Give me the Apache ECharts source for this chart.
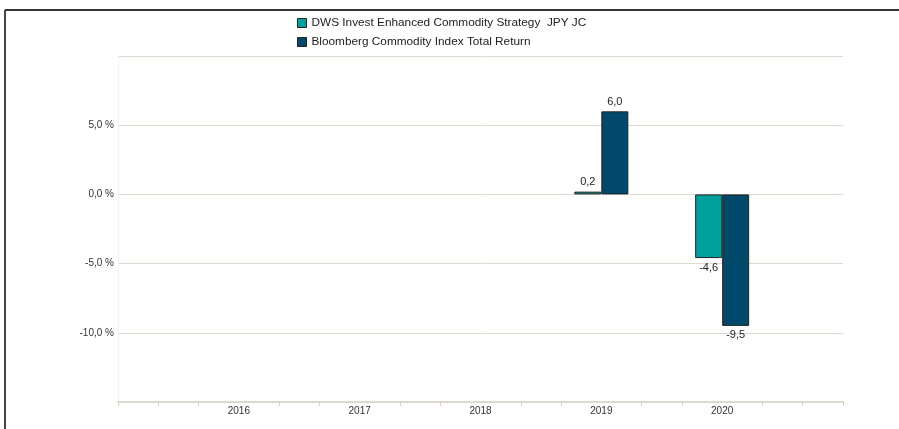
<!DOCTYPE html>
<html>
<head>
<meta charset="utf-8">
<script src="https://cdn.jsdelivr.net/npm/echarts@6/dist/echarts.min.js"></script>
<style>
html,body{margin:0;padding:0;background:#fff;}
#chart{width:899px;height:429px;}
</style>
</head>
<body>
<div id="chart"></div>
<script>
var categories = ['', '2016', '2017', '2018', '2019', '2020', ''];
var seriesNames = ['DWS Invest Enhanced Commodity Strategy  JPY JC', 'Bloomberg Commodity Index Total Return'];
var fundValues = [null, null, null, null, 0.2, -4.6, null];
var indexValues = [null, null, null, null, 6.0, -9.5, null];
var yTicks = [-15, -10, -5, 0, 5, 10];
var minorTickSlots = 19;

var colors = ['#00a09d', '#00496b'];
var font = '"Liberation Sans", Arial, sans-serif';

function fmt(v) { return v.toFixed(1).replace('.', ','); }

function buildData(vals) {
  return vals.map(function (v) {
    if (v === null) return null;
    return { value: v, label: { position: v < 0 ? 'bottom' : 'top' } };
  });
}

var tickCats = [];
for (var i = 0; i < minorTickSlots; i++) tickCats.push('t' + i);

var chart = echarts.init(document.getElementById('chart'), null, { renderer: 'canvas' });
chart.setOption({
  animation: false,
  backgroundColor: '#ffffff',
  textStyle: { fontFamily: font },
  legend: {
    orient: 'vertical',
    left: 297,
    top: 17,
    padding: 0,
    itemWidth: 9,
    itemHeight: 9,
    itemGap: 7,
    icon: 'rect',
    textStyle: { fontSize: 11.8, color: '#222', fontFamily: font },
    itemStyle: { borderColor: '#222', borderWidth: 1 },
    data: seriesNames
  },
  grid: [
    { left: 118, right: 56, top: 56, bottom: 27 },
    { left: 118, right: 56, top: 56, bottom: 27 }
  ],
  xAxis: [{
    type: 'category',
    gridIndex: 0,
    data: categories,
    boundaryGap: false,
    axisLine: { show: true, onZero: false, lineStyle: { color: '#ddd9cf', width: 2 } },
    axisTick: { show: false },
    axisLabel: { color: '#333', fontSize: 10, fontFamily: font, margin: 4, interval: 0 },
    splitLine: { show: false }
  }, {
    type: 'category',
    gridIndex: 1,
    data: tickCats,
    boundaryGap: false,
    axisLine: { show: false, onZero: false },
    axisTick: {
      show: true,
      length: 4,
      lineStyle: { color: '#d6d2c8', width: 1 },
      interval: function (idx) { return idx === 0 || idx === minorTickSlots - 1 || idx % 3 !== 0; }
    },
    axisLabel: { show: false },
    splitLine: { show: false }
  }],
  yAxis: [{
    type: 'value',
    gridIndex: 0,
    min: yTicks[0],
    max: yTicks[yTicks.length - 1],
    interval: 5,
    axisLine: { show: true, onZero: false, lineStyle: { color: '#f3f3f1', width: 1 } },
    axisTick: { show: false },
    axisLabel: {
      color: '#333', fontSize: 10, fontFamily: font, margin: 4,
      formatter: function (v) {
        if (v === yTicks[0] || v === yTicks[yTicks.length - 1]) return '';
        return fmt(v) + ' %';
      }
    },
    splitLine: { show: true, lineStyle: { color: '#dcd9d1', width: 1 } }
  }, {
    type: 'value',
    gridIndex: 1,
    min: yTicks[0],
    max: yTicks[yTicks.length - 1],
    show: false,
    splitLine: { show: false }
  }],
  graphic: [
    { type: 'line', shape: { x1: 5, y1: 10, x2: 899, y2: 10 }, style: { stroke: '#333', lineWidth: 2 }, silent: true },
    { type: 'line', shape: { x1: 5, y1: 10, x2: 5, y2: 429 }, style: { stroke: '#444', lineWidth: 2 }, silent: true }
  ],
  series: [{
    name: seriesNames[0],
    type: 'bar',
    xAxisIndex: 0, yAxisIndex: 0,
    data: buildData(fundValues),
    barWidth: 27,
    barGap: '0%',
    itemStyle: { color: colors[0], borderColor: '#222', borderWidth: 1 },
    label: { show: true, color: '#222', fontSize: 11, fontFamily: font, distance: 4, formatter: function (p) { return fmt(p.value); } }
  }, {
    name: seriesNames[1],
    type: 'bar',
    xAxisIndex: 0, yAxisIndex: 0,
    data: buildData(indexValues),
    barWidth: 27,
    barGap: '0%',
    itemStyle: { color: colors[1], borderColor: '#222', borderWidth: 1 },
    label: { show: true, color: '#222', fontSize: 11, fontFamily: font, distance: 4, formatter: function (p) { return fmt(p.value); } }
  }]
});
</script>
</body>
</html>
